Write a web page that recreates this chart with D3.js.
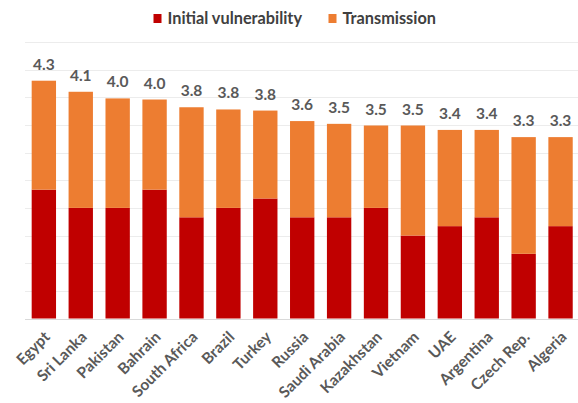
<!DOCTYPE html>
<html>
<head>
<meta charset="utf-8">
<script src="https://cdn.jsdelivr.net/npm/d3@7"></script>
<style>
  html, body { margin: 0; padding: 0; background: #fff; }
  svg { display: block; font-family: Lato, "Open Sans", sans-serif; }
</style>
</head>
<body>
<svg id="chart" width="578" height="403"></svg>
<script>
// Countries, ordered by total score
const countries = ["Egypt", "Sri Lanka", "Pakistan", "Bahrain", "South Africa", "Brazil", "Turkey",
  "Russia", "Saudi Arabia", "Kazakhstan", "Vietnam", "UAE", "Argentina", "Czech Rep.", "Algeria"];
// Initial vulnerability component
const initialVulnerability = [2.33, 2.0, 2.0, 2.33, 1.83, 2.0, 2.17, 1.83, 1.83, 2.0, 1.5, 1.67, 1.83, 1.17, 1.67];
// Total score (initial vulnerability + transmission)
const totals = [4.30, 4.10, 3.98, 3.96, 3.82, 3.78, 3.76, 3.57, 3.52, 3.49, 3.49, 3.41, 3.41, 3.28, 3.28];
// Transmission component
const transmission = totals.map((t, i) => +(t - initialVulnerability[i]).toFixed(2));
const seriesNames = ["Initial vulnerability", "Transmission"];
const seriesColors = ["#C00000", "#ED7D31"];
const gridTicks = [0, 0.5, 1, 1.5, 2, 2.5, 3, 3.5, 4, 4.5, 5];

const rows = countries.map((c, i) => ({
  country: c,
  "Initial vulnerability": initialVulnerability[i],
  "Transmission": transmission[i],
  total: totals[i]
}));

const svg = d3.select("#chart");

const x = d3.scaleBand().domain(countries).range([25.4, 579]).paddingInner(0.34).paddingOuter(0.17);
const y = d3.scaleLinear().domain([0, 5]).range([318.5, 42]);

// Horizontal gridlines
svg.append("g")
  .selectAll("line")
  .data(gridTicks)
  .join("line")
  .attr("x1", 25).attr("x2", 578)
  .attr("y1", d => Math.round(y(d)) + 0.5)
  .attr("y2", d => Math.round(y(d)) + 0.5)
  .attr("stroke", d => d === 0 ? "#d9d9d9" : "#ececec")
  .attr("stroke-width", 1);

// Stacked bars
const stacked = d3.stack().keys(seriesNames)(rows);
svg.append("g")
  .selectAll("g")
  .data(stacked)
  .join("g")
  .attr("fill", (d, i) => seriesColors[i])
  .selectAll("rect")
  .data(d => d)
  .join("rect")
  .attr("x", d => x(d.data.country))
  .attr("width", x.bandwidth())
  .attr("y", d => y(d[1]))
  .attr("height", d => y(d[0]) - y(d[1]));

// Total labels above each bar
svg.append("g")
  .selectAll("text")
  .data(rows)
  .join("text")
  .attr("x", d => x(d.country) + x.bandwidth() / 2)
  .attr("y", d => y(d.total) - 11)
  .attr("text-anchor", "middle")
  .attr("fill", "#595959")
  .attr("font-size", 15.5)
  .attr("font-weight", 700)
  .text(d => d.total.toFixed(1));

// Category axis labels, rotated
svg.append("g")
  .selectAll("text")
  .data(countries)
  .join("text")
  .attr("transform", d => `translate(${x(d) + x.bandwidth() / 2 + 7},${338}) rotate(-45)`)
  .attr("text-anchor", "end")
  .attr("fill", "#595959")
  .attr("font-size", 15.5)
  .attr("font-weight", 700)
  .text(d => d);

// Legend
const legend = svg.append("g");
const legendItems = [
  { name: seriesNames[0], color: seriesColors[0], x: 153.5 },
  { name: seriesNames[1], color: seriesColors[1], x: 328.5 }
];
const li = legend.selectAll("g").data(legendItems).join("g")
  .attr("transform", d => `translate(${d.x},14)`);
li.append("rect").attr("width", 8).attr("height", 9).attr("fill", d => d.color);
li.append("text")
  .attr("x", 14).attr("y", 10)
  .attr("fill", "#404040")
  .attr("font-size", 16.3)
  .attr("font-weight", 700)
  .text(d => d.name);
</script>
</body>
</html>
